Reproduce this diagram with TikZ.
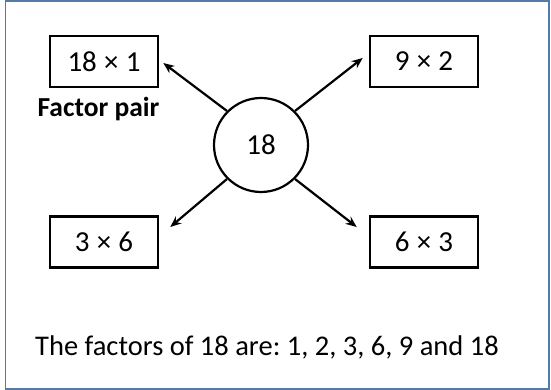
\documentclass[tikz,border=0pt]{standalone}
\usepackage{fontspec}
\setmainfont{Carlito}
\newfontfamily\timesfont{Liberation Sans}
\newcommand{\mytimes}{{\timesfont\fontsize{27}{30}\selectfont ×}}
\frenchspacing
\usetikzlibrary{arrows.meta}
\definecolor{framec}{RGB}{84,122,166}
\tikzset{
  pairbox/.style={draw, line width=2.6pt, minimum width=108pt, minimum height=51pt, inner sep=0pt, font=\fontsize{29}{32}\selectfont},
  arr/.style={line width=2.2pt, -{Stealth[length=11pt,width=9pt]}},
}
\begin{document}
\begin{tikzpicture}[x=1pt,y=1pt]
\useasboundingbox (0,0) rectangle (551,390);
\draw[framec, line width=1.6pt] (5.5,1) rectangle (549,389.2);
\node[pairbox] (b1) at (104,328.5) {18 \mytimes{} 1};
\node[pairbox] (b2) at (424,328.5) {9 \mytimes{} 2};
\node[pairbox] (b3) at (104,148) {3 \mytimes{} 6};
\node[pairbox] (b4) at (424,148) {6 \mytimes{} 3};
\node[draw, circle, line width=2.2pt, minimum size=94pt, inner sep=0pt, font=\fontsize{29}{32}\selectfont] (c) at (261,245) {18};
\node[font=\bfseries\fontsize{27.5}{30}\selectfont, anchor=base] (fp) at (98.5,273) {Factor pair};
\node[font=\fontsize{28.5}{32}\selectfont, anchor=base west, inner sep=0pt] (ft) at (35,34) {The factors of 18 are: 1, 2, 3, 6, 9 and 18};
\coordinate (t1) at ([xshift=4pt,yshift=-1.5pt]b1.east);
\coordinate (t2) at ([xshift=-6pt,yshift=3.5pt]b2.west);
\coordinate (t3) at ([xshift=11pt,yshift=15pt]b3.west -| b3.east);
\coordinate (t4) at ([xshift=-12pt,yshift=15pt]b4.west);
\draw[arr] (c.135) -- (t1);
\draw[arr] (c.45) -- (t2);
\draw[arr] (c.225) -- (t3);
\draw[arr] (c.-45) -- (t4);
\end{tikzpicture}
\end{document}
